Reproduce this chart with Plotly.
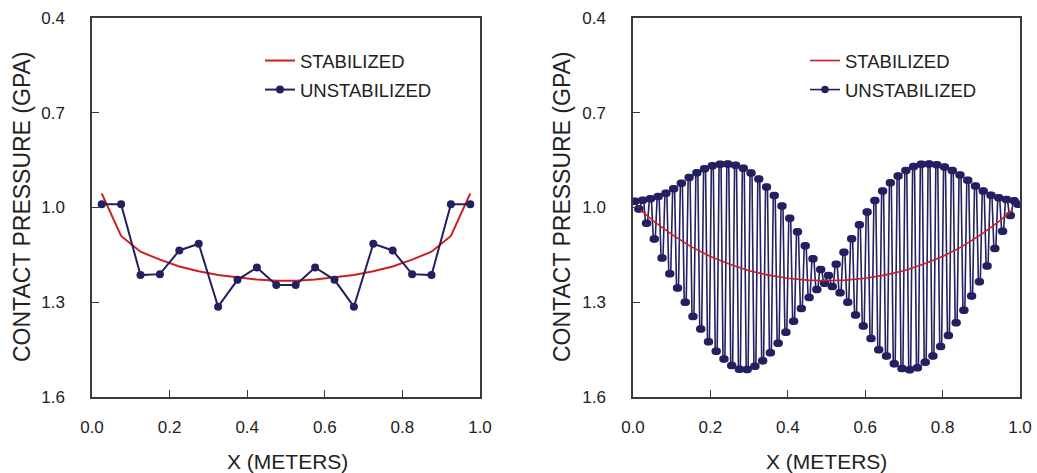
import numpy as np
import plotly.graph_objects as go

# ---------------- data: left panel (20 elements) ----------------
x_left = [0.025, 0.075, 0.125, 0.175, 0.225, 0.275, 0.325, 0.375, 0.425, 0.475,
          0.525, 0.575, 0.625, 0.675, 0.725, 0.775, 0.825, 0.875, 0.925, 0.975]
stab_left = [0.955, 1.090, 1.140, 1.165, 1.187, 1.202, 1.214, 1.222, 1.228, 1.232,
             1.232, 1.228, 1.222, 1.214, 1.202, 1.187, 1.165, 1.140, 1.090, 0.955]
unstab_left = [0.990, 0.990, 1.214, 1.211, 1.136, 1.115, 1.314, 1.229, 1.190, 1.245,
               1.245, 1.190, 1.229, 1.314, 1.115, 1.136, 1.211, 1.214, 0.990, 0.990]

# ---------------- data: right panel (200 elements) ----------------
x_right = np.linspace(0.0025, 0.9975, 200)
unstab_right = [
    0.980, 0.980, 1.005, 1.005, 0.977, 0.977, 1.050, 1.050, 0.972, 0.972,
    1.100, 1.100, 0.965, 0.965, 1.160, 1.160, 0.955, 0.955, 1.210, 1.210,
    0.941, 0.941, 1.255, 1.255, 0.923, 0.923, 1.300, 1.300, 0.905, 0.905,
    1.345, 1.345, 0.890, 0.890, 1.385, 1.385, 0.877, 0.877, 1.425, 1.425,
    0.868, 0.868, 1.455, 1.455, 0.863, 0.863, 1.480, 1.480, 0.862, 0.862,
    1.500, 1.500, 0.866, 0.866, 1.512, 1.512, 0.876, 0.876, 1.513, 1.513,
    0.891, 0.891, 1.503, 1.503, 0.910, 0.910, 1.485, 1.485, 0.935, 0.935,
    1.460, 1.460, 0.962, 0.962, 1.430, 1.430, 0.995, 0.995, 1.395, 1.395,
    1.034, 1.034, 1.360, 1.360, 1.077, 1.077, 1.320, 1.320, 1.121, 1.121,
    1.285, 1.285, 1.162, 1.162, 1.260, 1.260, 1.196, 1.196, 1.240, 1.240,
    1.215, 1.215, 1.250, 1.250, 1.180, 1.180, 1.270, 1.270, 1.142, 1.142,
    1.300, 1.300, 1.099, 1.099, 1.340, 1.340, 1.055, 1.055, 1.375, 1.375,
    1.014, 1.014, 1.415, 1.415, 0.978, 0.978, 1.450, 1.450, 0.948, 0.948,
    1.470, 1.470, 0.922, 0.922, 1.495, 1.495, 0.900, 0.900, 1.510, 1.510,
    0.883, 0.883, 1.514, 1.514, 0.870, 0.870, 1.507, 1.507, 0.863, 0.863,
    1.490, 1.490, 0.862, 0.862, 1.470, 1.470, 0.865, 0.865, 1.440, 1.440,
    0.872, 0.872, 1.405, 1.405, 0.883, 0.883, 1.365, 1.365, 0.897, 0.897,
    1.325, 1.325, 0.914, 0.914, 1.280, 1.280, 0.932, 0.932, 1.235, 1.235,
    0.948, 0.948, 1.185, 1.185, 0.961, 0.961, 1.130, 1.130, 0.969, 0.969,
    1.075, 1.075, 0.975, 0.975, 1.025, 1.025, 0.979, 0.979, 0.990, 0.990,
]
x_stab_right = [0.02, 0.05, 0.10, 0.15, 0.20, 0.25, 0.30, 0.35, 0.40, 0.45, 0.50,
                0.55, 0.60, 0.65, 0.70, 0.75, 0.80, 0.85, 0.90, 0.95, 0.98]
stab_right = [1.008, 1.040, 1.085, 1.124, 1.155, 1.180, 1.200, 1.214, 1.224, 1.230, 1.232,
              1.230, 1.224, 1.214, 1.200, 1.180, 1.155, 1.124, 1.085, 1.040, 1.008]

x_ticks = [0.0, 0.2, 0.4, 0.6, 0.8, 1.0]
y_ticks = [0.4, 0.7, 1.0, 1.3, 1.6]

RED = "#cc1f1f"
NAVY = "#222060"
AXC = "#3a3a3a"
FONT = "Liberation Sans, Arial, Helvetica, sans-serif"

W, H = 1037, 473
fig = go.Figure()

fig.add_trace(go.Scatter(x=x_left, y=stab_left, mode="lines", name="STABILIZED",
                         line=dict(color=RED, width=2), xaxis="x", yaxis="y",
                         legend="legend", legendgroup="a", legendrank=1))
fig.add_trace(go.Scatter(x=x_left, y=unstab_left, mode="lines+markers", name="UNSTABILIZED",
                         line=dict(color=NAVY, width=2), marker=dict(color=NAVY, size=8),
                         xaxis="x", yaxis="y", legend="legend", legendgroup="b", legendrank=2))
fig.add_trace(go.Scatter(x=x_right, y=unstab_right, mode="lines+markers", name="UNSTABILIZED",
                         line=dict(color=NAVY, width=1.6), marker=dict(color=NAVY, size=7.5),
                         xaxis="x2", yaxis="y2", legend="legend2", legendgroup="d", legendrank=2))
fig.add_trace(go.Scatter(x=x_stab_right, y=stab_right, mode="lines", name="STABILIZED",
                         line=dict(color=RED, width=1.6), xaxis="x2", yaxis="y2",
                         legend="legend2", legendgroup="c", legendrank=1))

def px_x(p):
    return p / W

def px_y(p):
    return 1 - p / H

ydom = [px_y(397), px_y(18)]
axis_common = dict(showline=True, linecolor=AXC, linewidth=1.5, mirror=True,
                   ticks="inside", ticklen=7, tickcolor=AXC, tickwidth=1.3,
                   showgrid=False, zeroline=False, automargin=False,
                   tickfont=dict(family=FONT, size=17, color="#222"))

fig.update_layout(
    width=W, height=H, margin=dict(l=0, r=0, t=0, b=0, autoexpand=False),
    paper_bgcolor="white", plot_bgcolor="white",
    font=dict(family=FONT, color="#222"),
    xaxis=dict(domain=[px_x(92), px_x(480)], anchor="y", range=[0, 1],
               tickvals=x_ticks, tickformat=".1f", ticklabelstandoff=14, **axis_common),
    yaxis=dict(domain=ydom, anchor="x", range=[1.6, 0.4],
               tickvals=y_ticks, tickformat=".1f", ticklabelstandoff=22, **axis_common),
    xaxis2=dict(domain=[px_x(633), px_x(1020)], anchor="y2", range=[0, 1],
                tickvals=x_ticks, tickformat=".1f", ticklabelstandoff=14, **axis_common),
    yaxis2=dict(domain=ydom, anchor="x2", range=[1.6, 0.4],
                tickvals=y_ticks, tickformat=".1f", ticklabelstandoff=22, **axis_common),
    legend=dict(x=px_x(260), y=px_y(42), xanchor="left", yanchor="top",
                bgcolor="rgba(0,0,0,0)", tracegroupgap=2,
                font=dict(family=FONT, size=18.5, color="#222")),
    legend2=dict(x=px_x(805), y=px_y(42), xanchor="left", yanchor="top",
                 bgcolor="rgba(0,0,0,0)", tracegroupgap=2,
                 font=dict(family=FONT, size=18.5, color="#222")),
    showlegend=True,
)

yt_font = dict(family=FONT, size=23, color="#222")
xt_font = dict(family=FONT, size=21, color="#222")
for xc in (22, 562):
    fig.add_annotation(text="CONTACT PRESSURE (GPA)", x=px_x(xc), y=px_y(207),
                       xref="paper", yref="paper", xanchor="center", yanchor="middle",
                       showarrow=False, textangle=-90, font=yt_font)
for xc in (287, 826):
    fig.add_annotation(text="X (METERS)", x=px_x(xc), y=px_y(461),
                       xref="paper", yref="paper", xanchor="center", yanchor="middle",
                       showarrow=False, font=xt_font)

fig.write_html("out.html", config={"displayModeBar": False},
               post_script="document.body.style.margin='0px';document.body.style.padding='0px';")
